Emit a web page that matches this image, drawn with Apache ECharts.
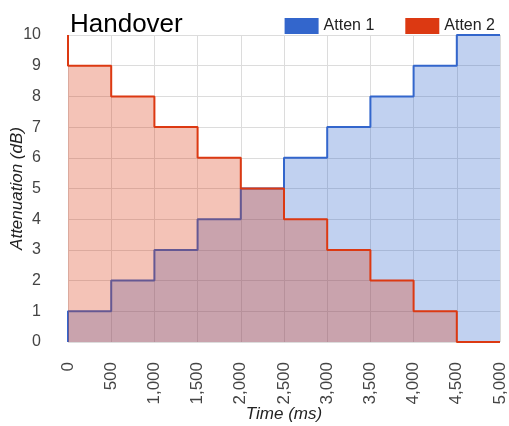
<!DOCTYPE html>
<html><head><meta charset="utf-8">
<script src="https://cdn.jsdelivr.net/npm/echarts@6/dist/echarts.min.js"></script>
<style>html,body{margin:0;padding:0;background:#fff}#c{width:509px;height:426px}</style>
</head><body><div id="c"></div>
<script>
const times = [0, 500, 1000, 1500, 2000, 2500, 3000, 3500, 4000, 4500, 5000];
const atten1 = [0, 1, 2, 3, 4, 5, 6, 7, 8, 9, 10];
const atten2 = [10, 9, 8, 7, 6, 5, 4, 3, 2, 1, 0];
const seriesNames = ['Atten 1', 'Atten 2'];
const colors = ['#3366cc', '#dc3912'];

const chart = echarts.init(document.getElementById('c'), null, {renderer: 'canvas'});
const font = 'Arial, "Liberation Sans", sans-serif';
function pairs(vals){ return times.map((t,i)=>[t, vals[i]]); }
chart.setOption({
  animation: false,
  title: {text: 'Handover', left: 65, top: 7, textStyle: {fontFamily: font, fontSize: 26, fontWeight: 'normal', color: '#000'}},
  legend: {
    right: 9, top: 13, itemWidth: 34, itemHeight: 16, itemGap: 31,
    icon: 'rect',
    textStyle: {fontFamily: font, fontSize: 16, color: '#222'},
    data: seriesNames
  },
  grid: {left: 68, right: 9, top: 35, bottom: 84, outerBoundsMode: 'none', containLabel: false},
  xAxis: {
    type: 'value', min: 0, max: 5000, interval: 500,
    name: 'Time (ms)', nameLocation: 'middle', nameGap: 64, nameMoveOverlap: false,
    nameTextStyle: {fontFamily: font, fontSize: 17, fontStyle: 'italic', color: '#222'},
    axisLine: {show: false}, axisTick: {show: false},
    axisLabel: {rotate: 90, margin: 20, fontFamily: font, fontSize: 17, color: '#444',
      formatter: v => v.toLocaleString('en-US')},
    splitLine: {lineStyle: {color: '#dcdcdc'}}
  },
  yAxis: {
    type: 'value', min: 0, max: 10, interval: 1,
    name: 'Attenuation (dB)', nameLocation: 'middle', nameGap: 42, nameMoveOverlap: false,
    nameTextStyle: {fontFamily: font, fontSize: 17, fontStyle: 'italic', color: '#222'},
    axisLine: {show: false}, axisTick: {show: false},
    axisLabel: {margin: 27, fontFamily: font, fontSize: 16, color: '#444'},
    splitLine: {lineStyle: {color: '#dcdcdc'}}
  },
  series: [
    {name: seriesNames[0], type: 'line', step: 'start', data: pairs(atten1), symbol: 'none',
     color: colors[0], lineStyle: {width: 2, color: colors[0]}, areaStyle: {color: colors[0], opacity: 0.3}, z: 3},
    {name: seriesNames[1], type: 'line', step: 'start', data: pairs(atten2), symbol: 'none',
     color: colors[1], lineStyle: {width: 2, color: colors[1]}, areaStyle: {color: colors[1], opacity: 0.3}, z: 4}
  ]
});
</script></body></html>
